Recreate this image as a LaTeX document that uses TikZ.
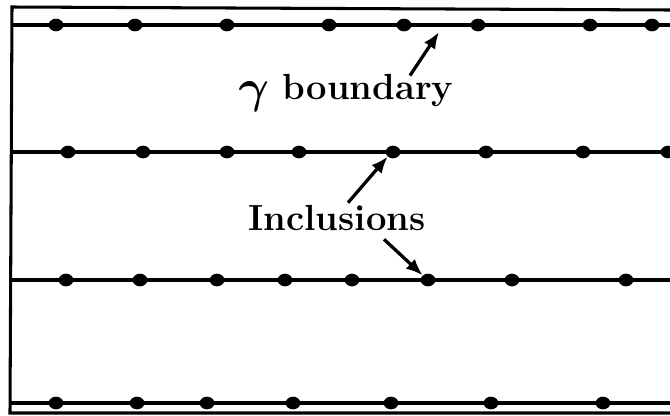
\documentclass[tikz,border=0pt]{standalone}
\usepackage{tikz}
\usetikzlibrary{shapes,arrows.meta,positioning,calc}
\usepackage{amsmath,amssymb}

\begin{document}
\begin{tikzpicture}[x=0.03cm, y=-0.03cm,
  bline/.style={line width=3.2pt, black},
  frame/.style={line width=2.6pt, black},
  incl/.style={ellipse, fill=black, inner sep=0pt, minimum width=0.44cm, minimum height=0.38cm},
  lbl/.style={font=\fontsize{31}{36}\selectfont\bfseries, inner sep=2pt},
  arr/.style={-{Latex[length=0.5cm, width=0.4cm]}, line width=2.8pt, black}
]
  \useasboundingbox (0,0) rectangle (670,415);

  % frame
  \draw[frame] (670,10) -- (12,7) -- (10,413) -- (670,413);

  % gamma boundaries
  \draw[bline] (12,25) -- (670,25);
  \draw[bline] (11,152) -- (670,152);
  \draw[bline] (10,280) -- (670,280);
  \draw[bline] (10,403) -- (670,403);

  % inclusions on the boundaries
  \foreach \x [count=\i] in {56,135,227,329,404,478,590,652}
    \node[incl] (a\i) at (\x,25) {};
  \foreach \x [count=\i] in {68,143,227,299,393,486,583,668}
    \node[incl] (b\i) at (\x,152) {};
  \foreach \x [count=\i] in {66,140,217,285,352,428,512,626}
    \node[incl] (c\i) at (\x,280) {};
  \foreach \x [count=\i] in {56,137,207,293,391,491,603}
    \node[incl] (d\i) at (\x,403) {};

  % labels
  \node[lbl] (bnd) at (346,93) {\raisebox{-3pt}{\scalebox{1.6}{$\boldsymbol{\gamma}$}} boundary};
  \node[lbl] (inc) at (337,218) {Inclusions};
  \coordinate (bt) at (439,32);

  \draw[arr] ($(bnd.north)+(64,4)$) -- (bt);
  \draw[arr] ($(inc.north)+(11,0)$) -- (b5.south west);
  \draw[arr] ($(inc.south east)+(-44,6)$) -- (c6.north west);
\end{tikzpicture}
\end{document}
